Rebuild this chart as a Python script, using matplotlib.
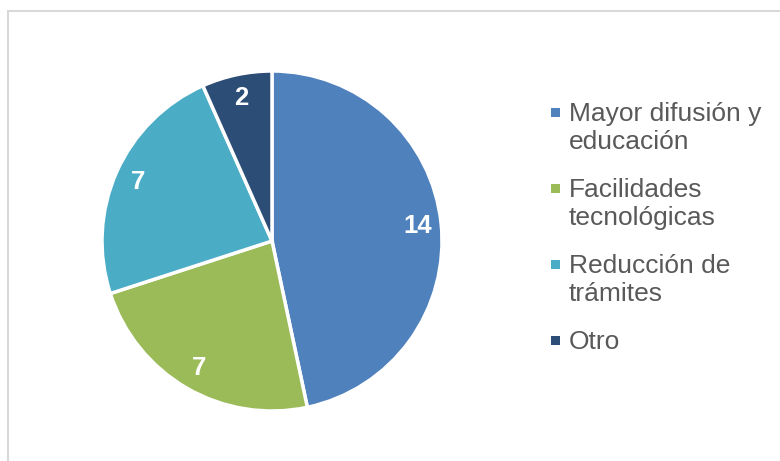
import matplotlib
matplotlib.use("Agg")
import matplotlib.pyplot as plt
from matplotlib.patches import Rectangle

plt.rcParams["font.family"] = ["Liberation Sans", "DejaVu Sans"]

# data
categories = ["Mayor difusión y\neducación", "Facilidades\ntecnológicas",
              "Reducción de\ntrámites", "Otro"]
values = [14, 7, 7, 2]
colors = ["#4F81BD", "#9BBB59", "#4BACC6", "#2C4D75"]

W, H = 780, 461
fig = plt.figure(figsize=(W / 100, H / 100), dpi=100)

# chart frame (right and bottom edges fall outside the crop)
fig.add_artist(Rectangle((8 / W, -0.2), 1.2, 1.2 - 11 / H,
                         transform=fig.transFigure, fill=False,
                         edgecolor="#D9D9D9", linewidth=1.5))

# pie axes: centre (272, 241), radius 170 px
cx, cy, r = 272, 241, 170
ax = fig.add_axes([(cx - r) / W, (H - cy - r) / H, 2 * r / W, 2 * r / H])
wedges, texts = ax.pie(values, colors=colors, startangle=90, counterclock=False,
                       radius=1.0, labels=[str(v) for v in values],
                       labeldistance=0.86,
                       wedgeprops=dict(edgecolor="white", linewidth=2.5),
                       textprops=dict(color="white", fontsize=18.5, fontweight="bold",
                                      ha="center", va="center"))
ax.set_xlim(-1, 1)
ax.set_ylim(-1, 1)
ax.set_aspect("auto")
ax.axis("off")

# legend, drawn by hand so the marker sits on the first line
lx, ly0, step, lh = 569, 121, 76, 28
for i, (lab, c) in enumerate(zip(categories, colors)):
    base = ly0 + i * step
    fig.add_artist(Rectangle(((lx - 18) / W, (H - base + 4) / H), 9 / W, 9 / H,
                             transform=fig.transFigure, facecolor=c,
                             edgecolor="none"))
    for j, line in enumerate(lab.split("\n")):
        fig.text(lx / W, (H - base - j * lh) / H, line, fontsize=19,
                 color="#595959", ha="left", va="baseline")

fig.savefig("out.png", dpi=100, facecolor="white")
